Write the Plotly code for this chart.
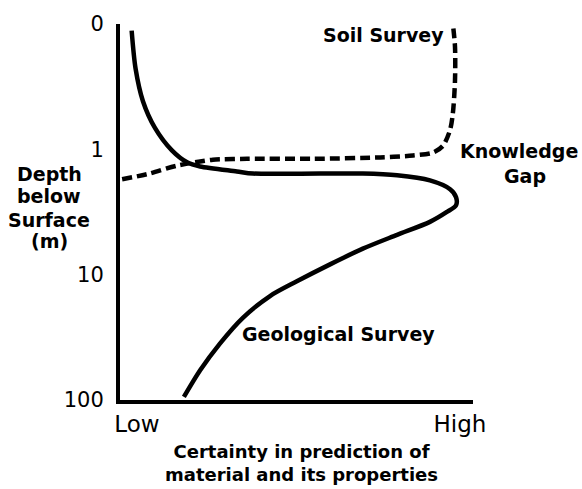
import plotly.graph_objects as go

# Certainty of prediction on a 0 (low) .. 100 (high) scale; depth in metres on a log axis
# (the 0.1 m gridline is labelled "0" to stand for the ground surface)
geo_certainty = [3.3, 4.4, 6.5, 9.9, 14.7, 19.0, 22.7, 33.1, 37.7, 56.7, 68.8, 78.5,
                 87.8, 93.5, 95.2, 95.2, 92.6, 87.8, 78.5, 68.8, 59.5, 50.1, 42.5,
                 34.8, 28.3, 22.7, 18.1]
geo_depth = [0.113, 0.226, 0.413, 0.675, 1.02, 1.27, 1.37, 1.50, 1.56, 1.56, 1.56, 1.61,
             1.77, 2.08, 2.41, 2.79, 3.16, 3.79, 4.81, 6.20, 8.28, 11.3, 14.8,
             22.1, 35.5, 58.0, 94.6]

soil_certainty = [0.6, 7.6, 16.1, 22.7, 26.3, 36.0, 54.7, 73.7, 83.0, 88.7, 91.5,
                  93.5, 94.3, 94.9, 94.9, 94.3]
soil_depth = [1.73, 1.58, 1.35, 1.25, 1.21, 1.19, 1.19, 1.16, 1.12, 1.06, 0.936,
              0.70, 0.514, 0.282, 0.152, 0.10]

depth_ticks = [0.1, 1, 10, 100]
depth_labels = ["0", "1", "10", "100"]
certainty_ticks = [4.8, 96.3]
certainty_labels = ["Low", "High"]

BOLD = dict(family="DejaVu Sans", size=19, color="black", weight="bold")

fig = go.Figure()
fig.add_trace(go.Scatter(
    x=geo_certainty, y=geo_depth, mode="lines",
    line=dict(color="black", width=4.5, shape="spline", smoothing=0.8),
    hoverinfo="skip"))
fig.add_trace(go.Scatter(
    x=soil_certainty, y=soil_depth, mode="lines",
    line=dict(color="black", width=4.5, dash="10px,5px", shape="spline", smoothing=0.8),
    hoverinfo="skip"))

labels = [
    ("Soil Survey", 0.746, 0.971, 19),
    ("Knowledge", 1.130, 0.661, 19),
    ("Gap", 1.147, 0.597, 19),
    ("Geological Survey", 0.618, 0.176, 19),
    ("Depth", -0.201, 0.600, 19),
    ("below", -0.201, 0.542, 19),
    ("Surface", -0.201, 0.479, 19),
    ("(m)", -0.201, 0.424, 19),
    ("Certainty in prediction of<br>material and its properties", 0.513, -0.167, 18),
]
for text, ax, ay, size in labels:
    fig.add_annotation(text=text, x=ax, y=ay, xref="paper", yref="paper",
                       xanchor="center", yanchor="middle", showarrow=False,
                       font=dict(BOLD, size=size))

fig.update_xaxes(
    range=[0, 100], showgrid=False, zeroline=False,
    showline=True, linewidth=4, linecolor="black",
    tickmode="array", tickvals=certainty_ticks, ticktext=certainty_labels,
    ticks="", ticklabelstandoff=0,
    tickfont=dict(family="DejaVu Sans", size=23, color="black"))
fig.update_yaxes(
    type="log", range=[2, -1], showgrid=False, zeroline=False,
    showline=True, linewidth=4, linecolor="black",
    tickmode="array", tickvals=depth_ticks, ticktext=depth_labels,
    ticks="", ticklabelstandoff=8,
    tickfont=dict(family="DejaVu Sans", size=21, color="black"))

fig.update_layout(
    width=582, height=489,
    margin=dict(l=120, r=109, t=20, b=89),
    paper_bgcolor="white", plot_bgcolor="white",
    showlegend=False)

fig.write_html("out.html")
